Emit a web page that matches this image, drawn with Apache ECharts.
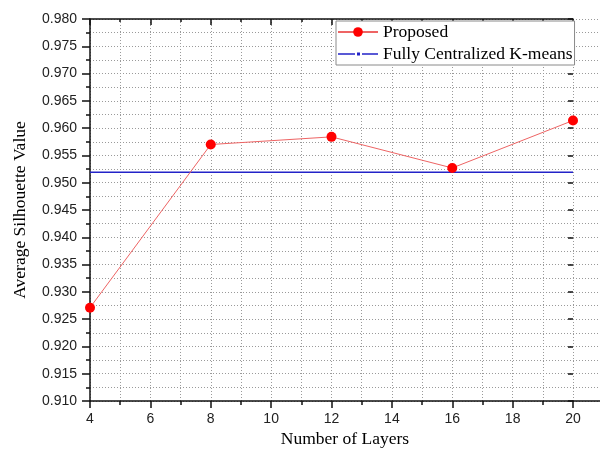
<!DOCTYPE html>
<html>
<head>
<meta charset="utf-8">
<script src="https://cdn.jsdelivr.net/npm/echarts@6/dist/echarts.min.js"></script>
<style>
  html, body { margin: 0; padding: 0; background: #fff; }
  #main { width: 600px; height: 456px; }
</style>
</head>
<body>
<div id="main"></div>
<script>
  // data
  var layers = [4, 8, 12, 16, 20];
  var proposed = [0.9271, 0.9570, 0.9584, 0.9527, 0.9614];
  var kmeansX = [4, 20];
  var kmeansValue = 0.9519;

  var gridDot = { color: '#9a9a9a', width: 1, type: [1, 2] };
  var axisBlack = { color: '#111', width: 1.5 };
  var labelFont = { fontFamily: 'Liberation Sans', fontSize: 14, color: '#222' };
  var serifFont = 'Liberation Serif';

  var chart = echarts.init(document.getElementById('main'));
  chart.setOption({
    animation: false,
    backgroundColor: '#fff',
    grid: [
      { left: 90, right: 27, top: 19, bottom: 55 },
      // strip right of x = 20, the frame runs on past it
      { left: 573, right: 0, top: 19, bottom: 55 }
    ],
    legend: {
      orient: 'vertical',
      left: 336,
      top: 21,
      padding: [2, 2, 2, 1],
      itemGap: 4,
      itemWidth: 40,
      itemHeight: 12,
      symbolKeepAspect: true,
      backgroundColor: '#fff',
      borderColor: '#8a8a8a',
      borderWidth: 1,
      textStyle: { fontFamily: serifFont, fontSize: 17.5, color: '#000' },
      data: [
        { name: 'Proposed' },
        {
          name: 'Fully Centralized K-means',
          icon: 'path://M0,5h17v1.5h-17z M19,4.25h3v3h-3z M24,5h16v1.5h-16z',
          itemStyle: { color: '#2323c8', borderWidth: 0 }
        }
      ]
    },
    xAxis: [
      {
        gridIndex: 0,
        type: 'value',
        min: 4,
        max: 20,
        interval: 2,
        name: 'Number of Layers',
        nameLocation: 'middle',
        nameGap: 28,
        nameTextStyle: { fontFamily: serifFont, fontSize: 17.5, color: '#000', padding: [0, 0, 0, 27] },
        axisLine: { lineStyle: axisBlack },
        axisTick: { length: 7, lineStyle: axisBlack },
        minorTick: { show: true, splitNumber: 2, length: 4, lineStyle: axisBlack },
        axisLabel: Object.assign({ margin: 11 }, labelFont),
        splitLine: { show: true, lineStyle: gridDot },
        minorSplitLine: { show: true, lineStyle: gridDot }
      },
      {
        gridIndex: 0,
        type: 'value',
        position: 'top',
        min: 4,
        max: 20,
        interval: 2,
        axisLine: { lineStyle: axisBlack },
        axisTick: { inside: true, length: 6, lineStyle: axisBlack },
        minorTick: { show: true, splitNumber: 2, length: 3, lineStyle: axisBlack },
        axisLabel: { show: false },
        splitLine: { show: false }
      },
      {
        gridIndex: 1,
        type: 'value',
        min: 0,
        max: 1,
        axisLine: { lineStyle: axisBlack },
        axisTick: { show: false },
        axisLabel: { show: false },
        splitLine: { show: false }
      }
    ],
    yAxis: [
      {
        gridIndex: 0,
        type: 'value',
        min: 0.91,
        max: 0.98,
        interval: 0.005,
        name: 'Average Silhouette Value',
        nameLocation: 'middle',
        nameGap: 61,
        nameTextStyle: { fontFamily: serifFont, fontSize: 17.5, color: '#000' },
        axisLine: { show: true, lineStyle: axisBlack },
        axisTick: { show: true, length: 8, lineStyle: axisBlack },
        minorTick: { show: true, splitNumber: 2, length: 4, lineStyle: axisBlack },
        axisLabel: Object.assign({
          margin: 13,
          formatter: function (v) { return v.toFixed(3); }
        }, labelFont),
        splitLine: { show: true, lineStyle: gridDot },
        minorSplitLine: { show: true, lineStyle: gridDot }
      },
      {
        gridIndex: 1,
        type: 'value',
        position: 'right',
        min: 0.91,
        max: 0.98,
        interval: 0.005,
        axisLine: { show: false },
        axisTick: { show: true, inside: true, length: 5, lineStyle: axisBlack },
        axisLabel: { show: false },
        splitLine: { show: true, lineStyle: gridDot },
        minorTick: { show: false, splitNumber: 2 },
        minorSplitLine: { show: true, lineStyle: gridDot }
      }
    ],
    series: [
      {
        name: 'Fully Centralized K-means',
        type: 'line',
        xAxisIndex: 0,
        yAxisIndex: 0,
        symbol: 'rect',
        showSymbol: false,
        lineStyle: { color: '#2323c8', width: 1.5 },
        itemStyle: { color: '#2323c8' },
        z: 2,
        data: kmeansX.map(function (x) { return [x, kmeansValue]; })
      },
      {
        name: 'Proposed',
        type: 'line',
        xAxisIndex: 0,
        yAxisIndex: 0,
        symbol: 'circle',
        symbolSize: 10,
        lineStyle: { color: '#ee6464', width: 1 },
        itemStyle: { color: '#ff0000' },
        z: 3,
        data: layers.map(function (x, i) { return [x, proposed[i]]; })
      }
    ]
  });
</script>
</body>
</html>
